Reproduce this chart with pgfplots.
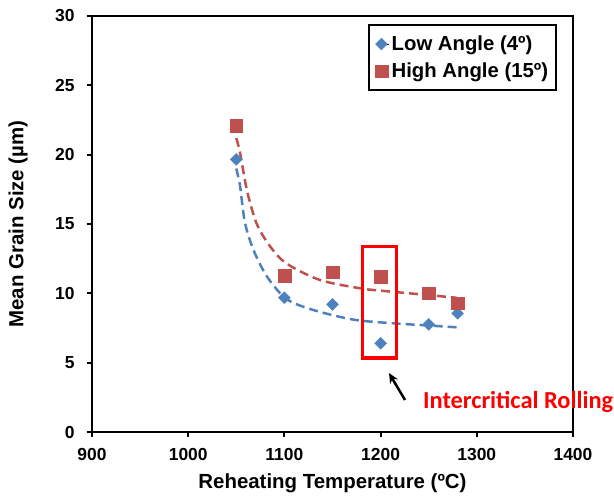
\documentclass[border=0pt]{standalone}
\usepackage{pgfplots}
\pgfplotsset{compat=1.18}
\usepackage{fontspec}
\setmainfont{Liberation Sans}
\newfontfamily\calib{Carlito}
\usetikzlibrary{arrows.meta}
\definecolor{xlblue}{RGB}{79,129,189}
\definecolor{xlred}{RGB}{192,80,77}
\begin{document}
\begin{tikzpicture}
\useasboundingbox (-92bp,-65bp) rectangle (522bp,432bp);
\begin{axis}[
  at={(0,0)}, anchor=south west,
  scale only axis, width=481bp, height=416bp,
  xmin=900, xmax=1400, ymin=0, ymax=30,
  xtick={900,1000,...,1400}, ytick={0,5,...,30},
  clip=false,
  axis line style={black, line width=2.5bp},
  tick pos=left, tick align=outside,
  major tick length=5bp,
  tick style={black, line width=2bp},
  /pgf/number format/assume math mode=true,
  /pgf/number format/1000 sep={},
  tick label style={font=\fontsize{17.5}{17.5}\selectfont\bfseries},
  xticklabel style={yshift=-8bp},
  yticklabel style={xshift=-9bp},
  every axis x label/.style={at={(axis description cs:0.5,-0.1226)}, anchor=center},
  every axis y label/.style={at={(axis description cs:-0.1538,0.5)}, rotate=90, anchor=center},
  label style={font=\fontsize{20.5}{20.5}\selectfont\bfseries},
  xlabel={Reheating Temperature (ºC)},
  ylabel={Mean Grain Size (µm)},
  legend style={at={(0.967,0.981)}, anchor=north east, draw=black, line width=2bp,
    font=\fontsize{20.4}{20.4}\selectfont\bfseries, row sep=7bp, inner xsep=6bp, inner ysep=9bp},
  legend cell align=left,
  legend image code/.code={\path (0bp,0bp) -- (8bp,0bp); \draw[#1] plot coordinates {(0bp,0bp)};},
]
% trend curves
\addplot[xlblue, line width=2.5bp, dash pattern=on 9bp off 5bp, smooth, tension=0.5, forget plot] coordinates {
(1050,19.0) (1052,18.4) (1054,17.7) (1059,15.1) (1068,13.1) (1082,11.2) (1102,9.6) (1130,8.8) (1172,8.1) (1213,7.84) (1250,7.68) (1279,7.55)};
\addplot[xlred, line width=2.5bp, dash pattern=on 9bp off 5bp, smooth, tension=0.5, forget plot] coordinates {
(1050,21.2) (1054,20.1) (1061,17.45) (1071,15.05) (1085,13.4) (1102,12.16) (1137,10.96) (1179,10.36) (1199,10.2) (1241,9.93) (1279,9.68)};
% data
\addplot[only marks, mark=square*, mark size=4.2bp, line width=0.4bp, mark options={rotate=45, fill=xlblue, draw=xlblue}] coordinates {
(1050,19.66) (1100,9.68) (1150,9.2) (1200,6.4) (1250,7.76) (1280,8.56)};
\addlegendentry{Low Angle (4º)}
\addplot[only marks, mark=square*, mark size=6.3bp, line width=0.4bp, mark options={fill=xlred, draw=xlred}] coordinates {
(1050,22.08) (1100,11.27) (1150,11.51) (1200,11.2) (1250,10.0) (1280,9.28)};
\addlegendentry{High Angle (15º)}
% annotation
\draw[red, line width=3.5bp] (axis cs:1181.4,5.34) rectangle (axis cs:1216.7,13.36);
\draw[black, line width=2.5bp, -{Stealth[length=10bp,width=9bp]}] (axis cs:1225.4,2.31) -- (axis cs:1208.7,4.25);
\node[anchor=base west, inner sep=0pt, text=red, font=\calib\fontsize{24.5}{24.5}\selectfont\bfseries] at (axis cs:1244,1.73) {Intercritical Rolling};
\end{axis}
\end{tikzpicture}
\end{document}
